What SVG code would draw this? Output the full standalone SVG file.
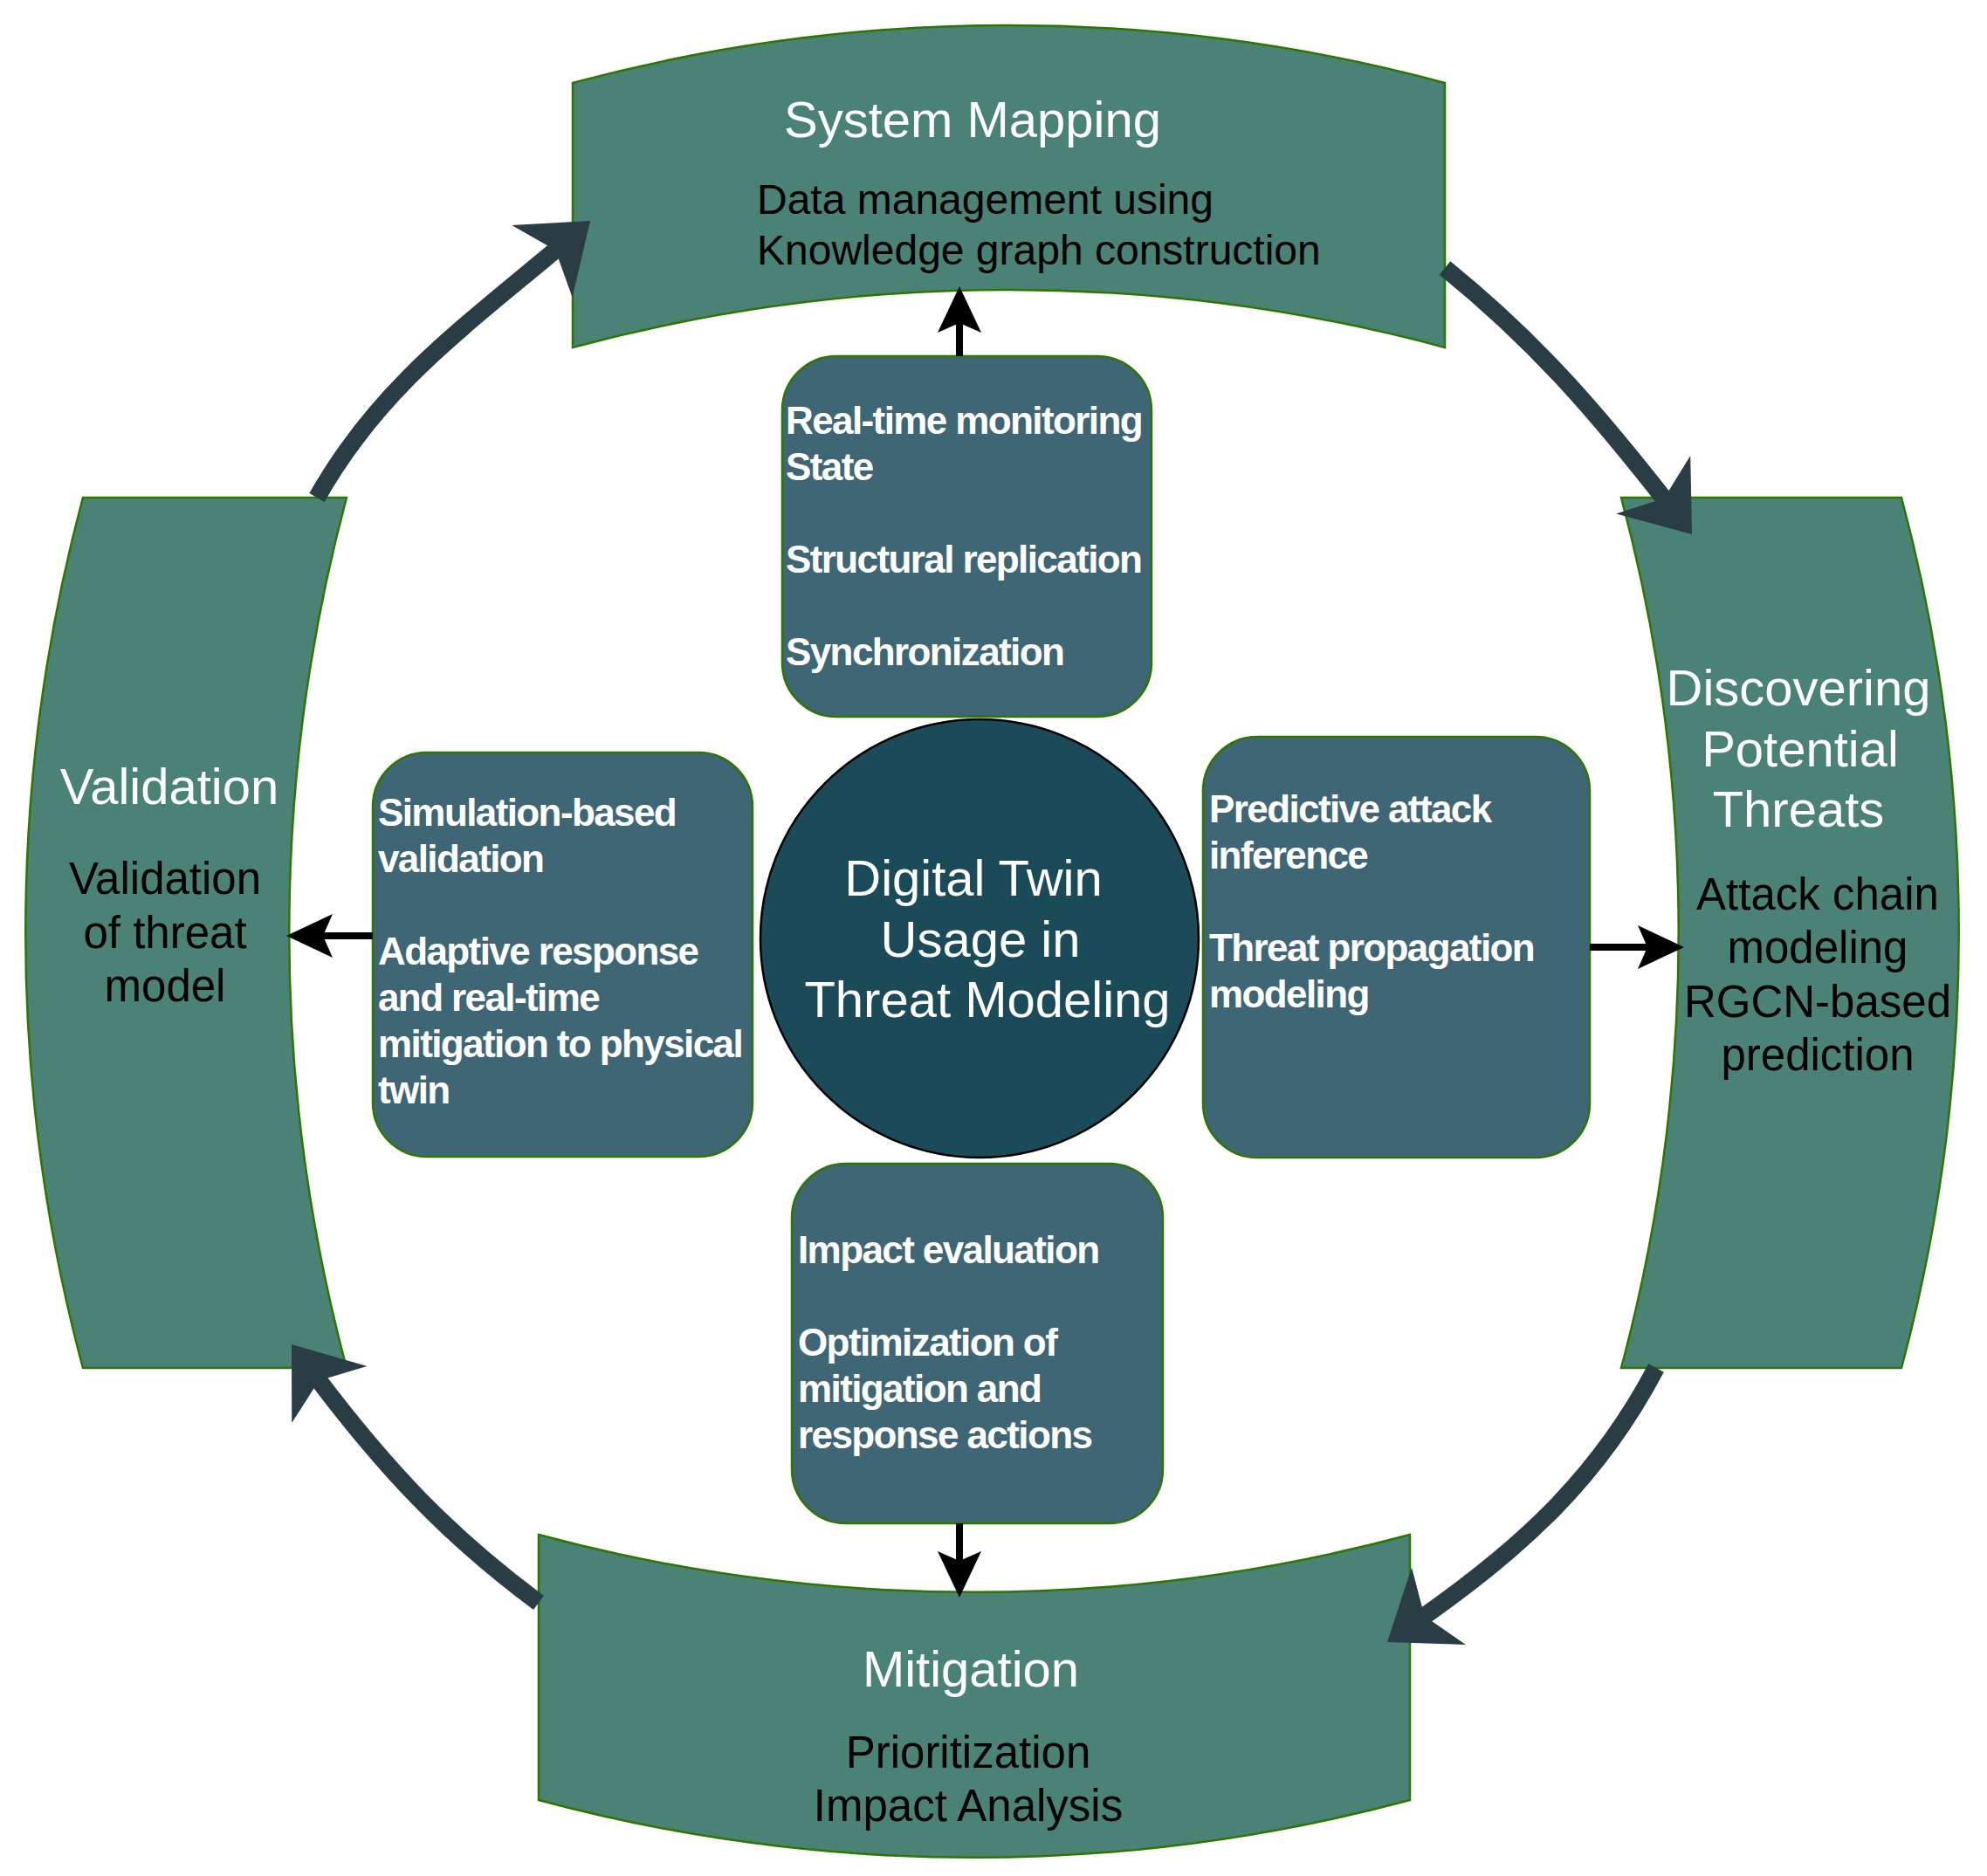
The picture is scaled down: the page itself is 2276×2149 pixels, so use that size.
<svg xmlns="http://www.w3.org/2000/svg" width="2276" height="2149" viewBox="0 0 2276 2149">
<defs>
<style>
.band{fill:#4A8276;stroke:#2D7600;stroke-width:2.5}
.box{fill:#3E6675;stroke:#2D7600;stroke-width:2.5}
.hub{fill:#1B4A58;stroke:#000;stroke-width:2.5}
.title{font-family:"Liberation Sans",Arial,Helvetica,sans-serif;font-size:58px;fill:#FFFFFF;text-anchor:middle}
.body{font-family:"Liberation Sans",Arial,Helvetica,sans-serif;font-size:51px;fill:#000000;text-anchor:middle}
.body48{font-family:"Liberation Sans",Arial,Helvetica,sans-serif;font-size:48px;fill:#000000}
.inner{font-family:"Liberation Sans",Arial,Helvetica,sans-serif;font-size:44px;font-weight:bold;fill:#FFFFFF;letter-spacing:-1.6px}
.big{fill:none;stroke:#2A3D45;stroke-width:20;marker-end:url(#bigHead)}
.small{fill:none;stroke:#000000;stroke-width:8;marker-end:url(#smallHead)}
</style>
<marker id="bigHead" markerUnits="userSpaceOnUse" viewBox="0 -60 80 120" markerWidth="80" markerHeight="120" refX="26" refY="0" orient="auto">
<path d="M72 0 L0 -54 L20 0 L0 54 Z" fill="#2A3D45"/>
</marker>
<marker id="smallHead" markerUnits="userSpaceOnUse" viewBox="0 -30 60 60" markerWidth="60" markerHeight="60" refX="14" refY="0" orient="auto">
<path d="M53 0 L0 -25 L11 0 L0 25 Z" fill="#000000"/>
</marker>
</defs>

<g id="system-mapping">
<path class="band" d="M656 95 A1923 1923 0 0 1 1655 95 L1655 398 A1923 1923 0 0 0 656 398 Z"/>
<text class="title" x="1114" y="157">System Mapping</text>
<text class="body48" x="867" y="245">Data management using</text>
<text class="body48" x="867" y="303">Knowledge graph construction</text>
</g>

<g id="discovering-potential-threats">
<path class="band" d="M1857 570 L2178 570 A1923 1923 0 0 1 2178 1567 L1857 1567 A1923 1923 0 0 0 1857 570 Z"/>
<text class="title" x="2060" y="808">Discovering</text>
<text class="title" x="2062" y="878">Potential</text>
<text class="title" x="2060" y="947">Threats</text>
<text class="body" x="2082" y="1042">Attack chain</text>
<text class="body" x="2082" y="1103">modeling</text>
<text class="body" x="2082" y="1165">RGCN-based</text>
<text class="body" x="2082" y="1226">prediction</text>
</g>

<g id="mitigation">
<path class="band" d="M617 1758 A1923 1923 0 0 0 1615 1758 L1615 2062 A1923 1923 0 0 1 617 2062 Z"/>
<text class="title" x="1112" y="1932">Mitigation</text>
<text class="body" x="1109" y="2025">Prioritization</text>
<text class="body" x="1109" y="2086">Impact Analysis</text>
</g>

<g id="validation">
<path class="band" d="M95 570 L397 570 A1923 1923 0 0 0 397 1567 L95 1567 A1923 1923 0 0 1 95 570 Z"/>
<text class="title" x="194" y="921">Validation</text>
<text class="body" x="189" y="1024">Validation</text>
<text class="body" x="189" y="1086">of threat</text>
<text class="body" x="189" y="1147">model</text>
</g>

<g id="digital-twin">
<circle class="hub" cx="1122" cy="1075" r="251"/>
<text class="title" x="1115" y="1026">Digital Twin</text>
<text class="title" x="1123" y="1096">Usage in</text>
<text class="title" x="1131" y="1165">Threat Modeling</text>
</g>

<g id="box-monitoring">
<rect class="box" x="896" y="408" width="423" height="413" rx="62" ry="62"/>
<text class="inner" x="900" y="497">Real-time monitoring</text>
<text class="inner" x="900" y="550">State</text>
<text class="inner" x="900" y="656">Structural replication</text>
<text class="inner" x="900" y="762">Synchronization</text>
</g>

<g id="box-validation">
<rect class="box" x="427" y="862" width="435" height="463" rx="62" ry="62"/>
<text class="inner" x="433" y="946">Simulation-based</text>
<text class="inner" x="433" y="999">validation</text>
<text class="inner" x="433" y="1105">Adaptive response</text>
<text class="inner" x="433" y="1158">and real-time</text>
<text class="inner" x="433" y="1211">mitigation to physical</text>
<text class="inner" x="433" y="1264">twin</text>
</g>

<g id="box-prediction">
<rect class="box" x="1378" y="844" width="443" height="482" rx="62" ry="62"/>
<text class="inner" x="1385" y="942">Predictive attack</text>
<text class="inner" x="1385" y="995">inference</text>
<text class="inner" x="1385" y="1101">Threat propagation</text>
<text class="inner" x="1385" y="1154">modeling</text>
</g>

<g id="box-impact">
<rect class="box" x="907" y="1333" width="425" height="412" rx="62" ry="62"/>
<text class="inner" x="914" y="1447">Impact evaluation</text>
<text class="inner" x="914" y="1553">Optimization of</text>
<text class="inner" x="914" y="1606">mitigation and</text>
<text class="inner" x="914" y="1659">response actions</text>
</g>

<g id="connectors">
<path class="big" d="M363 570 C433.7 444.5 530.5 375.2 640.8 282.6"/>
<path class="big" d="M1655 307 C1758.4 390.7 1827.8 471 1909.7 575.8"/>
<path class="big" d="M1897 1567 C1831 1692.7 1743 1773.2 1626.7 1854.6"/>
<path class="big" d="M617 1836 C511.8 1757.9 440.6 1681.5 361.7 1576.8"/>
<path class="small" d="M1099 408 L1099 367"/>
<path class="small" d="M1099 1745 L1099 1791"/>
<path class="small" d="M427 1072 L367 1072"/>
<path class="small" d="M1821 1085 L1890 1085"/>
</g>
</svg>
